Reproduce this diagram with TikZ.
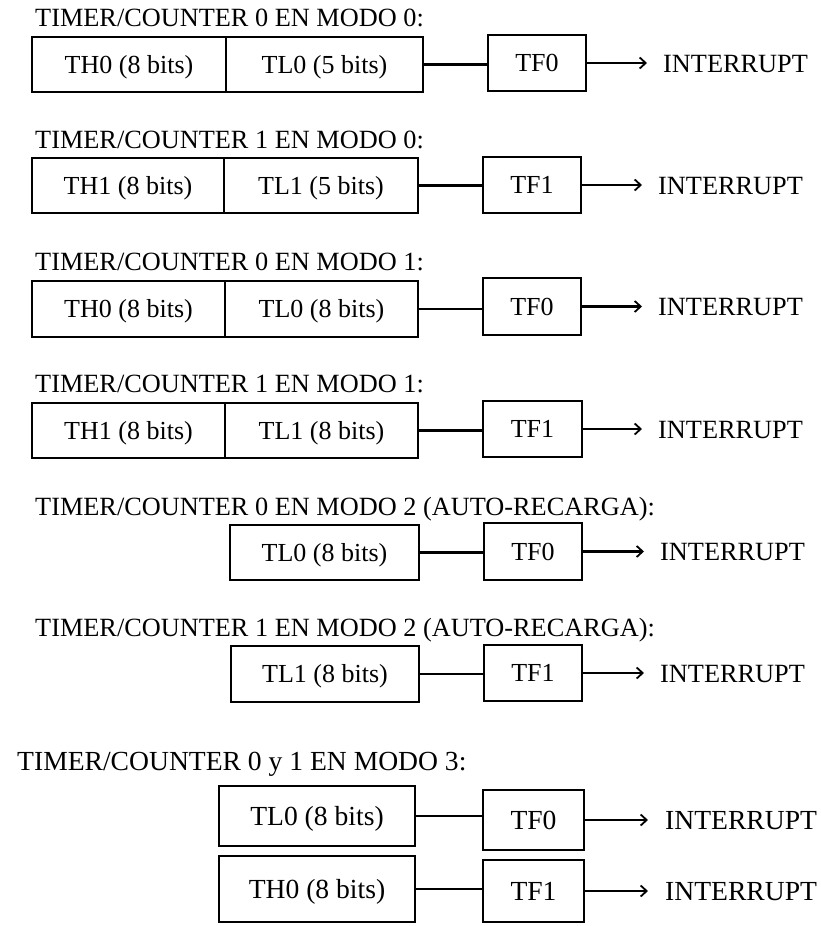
\documentclass[tikz,border=0pt]{standalone}
\usepackage{fontspec}
\setmainfont{Liberation Serif}
\usetikzlibrary{arrows.meta}
\tikzset{
  reg/.style={draw, line width=2.2pt, inner sep=0pt, text height=17.2pt, text depth=0pt, font=\fontsize{26}{30}\selectfont},
  regb/.style={reg, text height=18.2pt, font=\fontsize{27.6}{31}\selectfont},
  ttl/.style={anchor=base west, inner sep=0pt, font=\fontsize{26.3}{30}\selectfont},
  ttlb/.style={anchor=base west, inner sep=0pt, font=\fontsize{27.6}{31}\selectfont},
  intr/.style={anchor=base west, inner sep=0pt, font=\fontsize{26.3}{30}\selectfont},
  intrb/.style={anchor=base west, inner sep=0pt, font=\fontsize{27.6}{31}\selectfont},
  wire/.style={line width=2.2pt},
  arr/.style={line width=2.2pt, -{Straight Barb[length=6pt,width=11pt,line width=1.8pt]}},
}
\begin{document}
\begin{tikzpicture}[x=1pt,y=-1pt]
\useasboundingbox[fill=white] (0,0) rectangle (820,926);

% Row 1
\node[ttl] (t1) at (35,27) {TIMER/COUNTER 0 EN MODO 0:};
\node[reg, minimum width=194, minimum height=55] (h1) at (129,64.5) {TH0 (8 bits)};
\node[reg, minimum width=197, minimum height=55] (l1) at (324.5,64.5) {TL0 (5 bits)};
\node[reg, minimum width=98, minimum height=56] (f1) at (537,63) {TF0};
\coordinate (e1) at (647,63);
\node[intr] (i1) at (663,72) {INTERRUPT};
\draw[wire] (l1.east) -- (l1.east -| f1.west);
\draw[arr] (f1.east) -- (e1);

% Row 2
\node[ttl] (t2) at (35,148) {TIMER/COUNTER 1 EN MODO 0:};
\node[reg, minimum width=192, minimum height=55] (h2) at (128,185.5) {TH1 (8 bits)};
\node[reg, minimum width=194, minimum height=55] (l2) at (321,185.5) {TL1 (5 bits)};
\node[reg, minimum width=98, minimum height=56] (f2) at (532,185) {TF1};
\coordinate (e2) at (642,185);
\node[intr] (i2) at (658,194) {INTERRUPT};
\draw[wire] (l2.east) -- (l2.east -| f2.west);
\draw[arr] (f2.east) -- (e2);

% Row 3
\node[ttl] (t3) at (35,270) {TIMER/COUNTER 0 EN MODO 1:};
\node[reg, minimum width=193, minimum height=56] (h3) at (128.5,309) {TH0 (8 bits)};
\node[reg, minimum width=193, minimum height=56] (l3) at (321.5,309) {TL0 (8 bits)};
\node[reg, minimum width=98, minimum height=57] (f3) at (532,306.5) {TF0};
\coordinate (e3) at (642,306.5);
\node[intr] (i3) at (658,315.5) {INTERRUPT};
\draw[wire] (l3.east) -- (l3.east -| f3.west);
\draw[arr] (f3.east) -- (e3);

% Row 4
\node[ttl] (t4) at (35,392) {TIMER/COUNTER 1 EN MODO 1:};
\node[reg, minimum width=193, minimum height=55] (h4) at (128.5,430.5) {TH1 (8 bits)};
\node[reg, minimum width=193, minimum height=55] (l4) at (321.5,430.5) {TL1 (8 bits)};
\node[reg, minimum width=99, minimum height=56] (f4) at (532.5,429) {TF1};
\coordinate (e4) at (642,429);
\node[intr] (i4) at (658,438) {INTERRUPT};
\draw[wire] (l4.east) -- (l4.east -| f4.west);
\draw[arr] (f4.east) -- (e4);

% Row 5
\node[ttl] (t5) at (35,515) {TIMER/COUNTER 0 EN MODO 2 (AUTO-RECARGA):};
\node[reg, minimum width=189, minimum height=55] (l5) at (324.5,552.5) {TL0 (8 bits)};
\node[reg, minimum width=98, minimum height=57] (f5) at (533,551.5) {TF0};
\coordinate (e5) at (644,551.5);
\node[intr] (i5) at (660,560.5) {INTERRUPT};
\draw[wire] (l5.east) -- (l5.east -| f5.west);
\draw[arr] (f5.east) -- (e5);

% Row 6
\node[ttl] (t6) at (35,636) {TIMER/COUNTER 1 EN MODO 2 (AUTO-RECARGA):};
\node[reg, minimum width=188, minimum height=56] (l6) at (325,674) {TL1 (8 bits)};
\node[reg, minimum width=98, minimum height=56] (f6) at (533,673) {TF1};
\coordinate (e6) at (644,673);
\node[intr] (i6) at (660,682) {INTERRUPT};
\draw[wire] (l6.east) -- (l6.east -| f6.west);
\draw[arr] (f6.east) -- (e6);

% Row 7
\node[ttlb] (t7) at (17,770) {TIMER/COUNTER 0 y 1 EN MODO 3:};
\node[regb, minimum width=196, minimum height=60] (l7) at (317,816) {TL0 (8 bits)};
\node[regb, minimum width=101, minimum height=60] (f7) at (533.5,820) {TF0};
\coordinate (e7) at (648,820);
\node[intrb] (i7) at (665,829) {INTERRUPT};
\draw[wire] (l7.east) -- (l7.east -| f7.west);
\draw[arr] (f7.east) -- (e7);

\node[regb, minimum width=196, minimum height=66] (h8) at (317,889) {TH0 (8 bits)};
\node[regb, minimum width=101, minimum height=62] (f8) at (533.5,891) {TF1};
\coordinate (e8) at (648,891);
\node[intrb] (i8) at (665,900) {INTERRUPT};
\draw[wire] (h8.east) -- (h8.east -| f8.west);
\draw[arr] (f8.east) -- (e8);
\end{tikzpicture}
\end{document}
